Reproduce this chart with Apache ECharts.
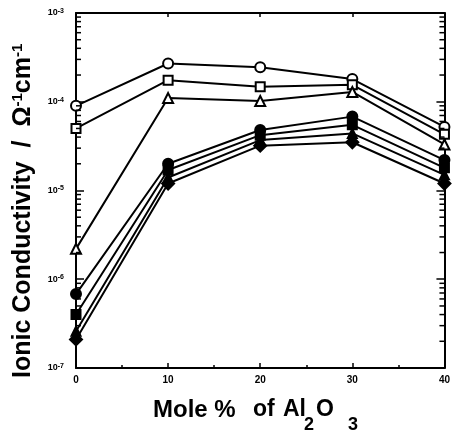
<!DOCTYPE html>
<html>
<head>
<meta charset="utf-8">
<script src="https://cdn.jsdelivr.net/npm/echarts@6/dist/echarts.min.js"></script>
<style>
  html, body { margin: 0; padding: 0; background: #fff; }
  #chart { width: 453px; height: 433px; }
</style>
</head>
<body>
<div id="chart"></div>
<script>
// Al2O3 content (mol %)
var molePercent = [0, 10, 20, 30, 40];

// Ionic conductivity (S/cm) for each sample series
var openCircle   = [9.0e-5, 2.7e-4, 2.45e-4, 1.8e-4, 5.2e-5];
var openSquare   = [5.0e-5, 1.75e-4, 1.48e-4, 1.55e-4, 4.3e-5];
var openTriangle = [2.2e-6, 1.1e-4, 1.02e-4, 1.29e-4, 3.3e-5];
var fillCircle   = [6.8e-7, 2.0e-5, 4.8e-5, 6.8e-5, 2.2e-5];
var fillSquare   = [4.0e-7, 1.7e-5, 4.2e-5, 5.5e-5, 1.8e-5];
var fillTriangle = [2.6e-7, 1.4e-5, 3.7e-5, 4.4e-5, 1.5e-5];
var fillDiamond  = [2.1e-7, 1.2e-5, 3.2e-5, 3.5e-5, 1.2e-5];

// Decade tick labels (exponents) and x tick labels
var decadeExponents = [-7, -6, -5, -4, -3];
var xTickLabels = [0, 10, 20, 30, 40];

var FONT = 'Liberation Sans, Arial, sans-serif';

function pairs(ys) {
  return molePercent.map(function (x, i) { return [x, ys[i]]; });
}

// minor log tick values 2..9 within each decade
var minorLogValues = [];
for (var e = -7; e < -3; e++) {
  for (var m = 2; m <= 9; m++) minorLogValues.push(m * Math.pow(10, e));
}

function lineSeries(name, ys, symbol, size) {
  return {
    name: name,
    type: 'line',
    data: pairs(ys),
    symbol: symbol,
    symbolSize: size,
    lineStyle: { color: '#000', width: 2 },
    itemStyle: { color: '#000', borderColor: '#000', borderWidth: 2 },
    emphasis: { disabled: true },
    animation: false,
    z: 3
  };
}

var chart = echarts.init(document.getElementById('chart'), null, { renderer: 'canvas' });

var textGraphics = [
  {
    // y axis title, reading bottom to top
    type: 'text',
    x: 23, y: 378,
    rotation: Math.PI / 2,
    style: {
      text: '{t|Ionic Conductivity  /  \u03A9}{s|-1}{t|cm}{s|-1}',
      align: 'left', verticalAlign: 'middle',
      rich: {
        t: { fontSize: 25, fontWeight: 'bold', fontFamily: FONT, fill: '#000' },
        s: { fontSize: 15, fontWeight: 'bold', fontFamily: FONT, fill: '#000', verticalAlign: 'top', padding: [0, 0, 11, 0] }
      }
    }
  },
  { type: 'text', x: 153, y: 410, style: { text: 'Mole %', fontSize: 24, fontWeight: 'bold', fontFamily: FONT, fill: '#000', align: 'left', verticalAlign: 'middle' } },
  { type: 'text', x: 253, y: 410, style: { text: 'of', fontSize: 23, fontWeight: 'bold', fontFamily: FONT, fill: '#000', align: 'left', verticalAlign: 'middle' } },
  { type: 'text', x: 283, y: 410, style: { text: 'Al', fontSize: 23, fontWeight: 'bold', fontFamily: FONT, fill: '#000', align: 'left', verticalAlign: 'middle' } },
  { type: 'text', x: 304, y: 425, style: { text: '2', fontSize: 18, fontWeight: 'bold', fontFamily: FONT, fill: '#000', align: 'left', verticalAlign: 'middle' } },
  { type: 'text', x: 316, y: 410, style: { text: 'O', fontSize: 23, fontWeight: 'bold', fontFamily: FONT, fill: '#000', align: 'left', verticalAlign: 'middle' } },
  { type: 'text', x: 348, y: 425, style: { text: '3', fontSize: 18, fontWeight: 'bold', fontFamily: FONT, fill: '#000', align: 'left', verticalAlign: 'middle' } }
];

chart.setOption({
  backgroundColor: '#fff',
  animation: false,
  grid: { left: 76, right: 8, top: 13, bottom: 65, show: false },
  xAxis: [{
    type: 'value', min: 0, max: 40, interval: 10,
    axisLine: { show: true, onZero: false, lineStyle: { color: '#000', width: 2 } },
    axisTick: { show: true, inside: true, length: 5, lineStyle: { color: '#000', width: 1.5 } },
    minorTick: { show: true, splitNumber: 2, length: 3, lineStyle: { color: '#000', width: 1.5 } },
    splitLine: { show: false },
    axisLabel: {
      margin: 7, color: '#000', fontFamily: FONT, fontWeight: 'bold', fontSize: 10,
      formatter: function (v) { return xTickLabels.indexOf(v) >= 0 ? String(v) : ''; }
    }
  }, {
    type: 'value', min: 0, max: 40, interval: 10, position: 'top',
    axisLine: { show: true, onZero: false, lineStyle: { color: '#000', width: 2 } },
    axisTick: { show: true, inside: true, length: 4, lineStyle: { color: '#000', width: 1.5 } },
    splitLine: { show: false }, axisLabel: { show: false }
  }],
  yAxis: [{
    type: 'log', logBase: 10, min: 1e-7, max: 1e-3, position: 'left',
    axisLine: { show: true, onZero: false, lineStyle: { color: '#000', width: 2 } },
    axisTick: { show: true, inside: true, length: 8, lineStyle: { color: '#000', width: 1.5 } },
    splitLine: { show: false },
    axisLabel: {
      margin: 12, color: '#000', fontFamily: FONT, fontWeight: 'bold',
      formatter: function (v) {
        var ex = Math.round(Math.log10(v));
        return decadeExponents.indexOf(ex) >= 0 ? '{b|10}{s|' + ex + '}' : '';
      },
      rich: {
        b: { fontSize: 9, fontWeight: 'bold', fontFamily: FONT, color: '#000' },
        s: { fontSize: 7, fontWeight: 'bold', fontFamily: FONT, color: '#000', verticalAlign: 'top', padding: [0, 0, 4, 0] }
      }
    }
  }, {
    type: 'log', logBase: 10, min: 1e-7, max: 1e-3, position: 'right',
    axisLine: { show: true, onZero: false, lineStyle: { color: '#000', width: 2 } },
    axisTick: { show: true, inside: true, length: 8, lineStyle: { color: '#000', width: 1.5 } },
    splitLine: { show: false }, axisLabel: { show: false }
  }],
  series: [
    lineSeries('open circle', openCircle, 'emptyCircle', 10),
    lineSeries('open square', openSquare, 'emptyRect', 9),
    lineSeries('open triangle', openTriangle, 'emptyTriangle', 10),
    lineSeries('filled triangle', fillTriangle, 'triangle', 9),
    lineSeries('filled diamond', fillDiamond, 'diamond', 12),
    lineSeries('filled square', fillSquare, 'rect', 9),
    lineSeries('filled circle', fillCircle, 'circle', 10)
  ],
  graphic: textGraphics
});

// log minor ticks on both vertical frame edges, placed through the axis scales
var xLeft = chart.convertToPixel({ xAxisIndex: 0 }, 0);
var xRight = chart.convertToPixel({ xAxisIndex: 0 }, 40);
var tickMarks = [];
minorLogValues.forEach(function (v) {
  var py = chart.convertToPixel({ yAxisIndex: 0 }, v);
  tickMarks.push({ type: 'rect', z: 100, silent: true, shape: { x: xLeft, y: py - 0.75, width: 5, height: 1.5 }, style: { fill: '#000' } });
  tickMarks.push({ type: 'rect', z: 100, silent: true, shape: { x: xRight - 5, y: py - 0.75, width: 5, height: 1.5 }, style: { fill: '#000' } });
});
chart.setOption({ graphic: textGraphics.concat(tickMarks) }, { replaceMerge: ['graphic'] });
</script>
</body>
</html>
